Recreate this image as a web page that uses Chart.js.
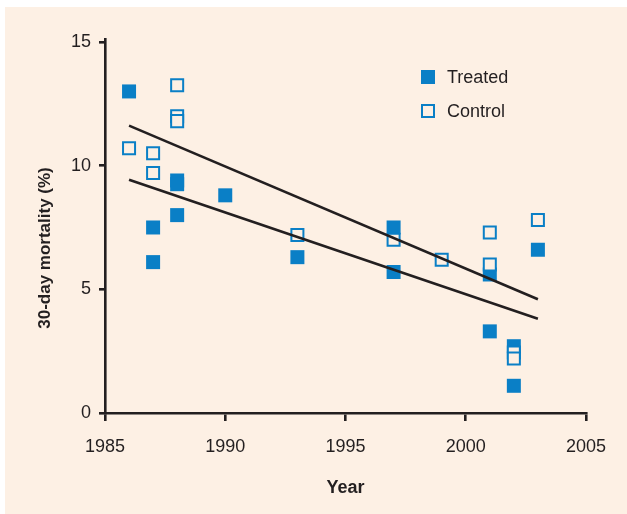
<!DOCTYPE html>
<html>
<head>
<meta charset="utf-8">
<title>30-day mortality</title>
<script src="https://cdn.jsdelivr.net/npm/chart.js@4"></script>
<style>
  html, body { margin: 0; padding: 0; background: #ffffff; }
  #bg { position: absolute; left: 5px; top: 7px; right: 0; bottom: 0; background: #fdf0e4; }
  #wrap { position: absolute; left: 0; top: 0; width: 627px; height: 514px; }
</style>
</head>
<body>
<div id="bg"></div>
<div id="wrap"><canvas id="mortalityChart" width="627" height="514"></canvas></div>
<script>
// values
const treatedYears     = [1986, 1987, 1987, 1988, 1988, 1988, 1990, 1993, 1997, 1997, 2001, 2001, 2002, 2002, 2003];
const treatedMortality = [13.0, 7.5, 6.1, 9.4, 9.25, 8.0, 8.8, 6.3, 7.5, 5.7, 5.6, 3.3, 2.7, 1.1, 6.6];

const controlYears     = [1986, 1987, 1987, 1988, 1988, 1988, 1993, 1997, 1999, 2001, 2001, 2002, 2002, 2003];
const controlMortality = [10.7, 10.5, 9.7, 13.25, 12.0, 11.8, 7.2, 7.0, 6.2, 7.3, 6.0, 2.45, 2.2, 7.8];

// trend lines (start / end)
const fitYears   = [1986, 2003];
const controlFit = [11.62, 4.60];
const treatedFit = [9.43, 3.81];

const xTicks = [1985, 1990, 1995, 2000, 2005];
const yTicks = [0, 5, 10, 15];

const INK = '#231f20';
const BLUE = '#0a7fc6';
const PAPER = '#fdf0e4';
const FONT = "'Liberation Sans', Arial, sans-serif";

function toPoints(xs, ys) {
    return xs.map((x, i) => ({ x: x, y: ys[i] }));
}

// legend + rotated y title drawn by hand so they sit where the original has them
const extras = {
    id: 'extras',
    afterDraw(chart) {
        const ctx = chart.ctx;
        ctx.save();
        ctx.fillStyle = BLUE;
        ctx.fillRect(421, 70, 14, 14);
        ctx.strokeStyle = BLUE;
        ctx.lineWidth = 2;
        ctx.fillStyle = PAPER;
        ctx.fillRect(422, 105, 12, 12);
        ctx.strokeRect(422, 105, 12, 12);

        ctx.fillStyle = INK;
        ctx.font = '18px ' + FONT;
        ctx.textAlign = 'left';
        ctx.textBaseline = 'alphabetic';
        ctx.fillText('Treated', 447, 83);
        ctx.fillText('Control', 447, 117);

        ctx.font = 'bold 17px ' + FONT;
        ctx.translate(50, 248);
        ctx.rotate(-Math.PI / 2);
        ctx.textAlign = 'center';
        ctx.fillText('30-day mortality (%)', 0, 0);
        ctx.restore();
    }
};

document.addEventListener('DOMContentLoaded', function() {
    const mortalityChart = new Chart(document.getElementById('mortalityChart').getContext('2d'), {
        type: 'scatter',
        data: {
            datasets: [
                {
                    label: 'Control trend',
                    type: 'line',
                    data: toPoints(fitYears, controlFit),
                    borderColor: INK,
                    borderWidth: 2.6,
                    pointRadius: 0,
                    fill: false,
                    order: 0
                },
                {
                    label: 'Treated trend',
                    type: 'line',
                    data: toPoints(fitYears, treatedFit),
                    borderColor: INK,
                    borderWidth: 2.6,
                    pointRadius: 0,
                    fill: false,
                    order: 0
                },
                {
                    label: 'Control',
                    data: toPoints(controlYears, controlMortality),
                    pointStyle: 'rect',
                    pointRadius: 8.5,
                    backgroundColor: PAPER,
                    borderColor: BLUE,
                    borderWidth: 2,
                    order: 1
                },
                {
                    label: 'Treated',
                    data: toPoints(treatedYears, treatedMortality),
                    pointStyle: 'rect',
                    pointRadius: 9.9,
                    backgroundColor: BLUE,
                    borderWidth: 0,
                    order: 2
                }
            ]
        },
        options: {
            responsive: false,
            devicePixelRatio: 1,
            animation: false,
            layout: { padding: { top: 39, right: 41, left: 0, bottom: 0 } },
            plugins: {
                legend: { display: false },
                tooltip: { enabled: false }
            },
            scales: {
                x: {
                    type: 'linear',
                    min: 1985,
                    max: 2005,
                    afterBuildTicks: s => { s.ticks = xTicks.map(v => ({ value: v })); },
                    afterFit: s => { s.height = 101; },
                    border: { display: true, color: INK, width: 2.6 },
                    grid: { drawOnChartArea: false, drawTicks: true, tickLength: 8, color: INK, lineWidth: 2.6 },
                    ticks: {
                        color: INK,
                        font: { family: FONT, size: 18 },
                        padding: 15,
                        maxRotation: 0,
                        autoSkip: false,
                        callback: v => String(v)
                    },
                    title: {
                        display: true,
                        text: 'Year',
                        color: INK,
                        font: { family: FONT, size: 18, weight: 'bold' },
                        padding: { top: 0, bottom: 15 }
                    }
                },
                y: {
                    min: 0,
                    max: 15.12,
                    afterBuildTicks: s => { s.ticks = yTicks.map(v => ({ value: v })); },
                    afterFit: s => { s.width = 105; },
                    border: { display: true, color: INK, width: 2.6 },
                    grid: { drawOnChartArea: false, drawTicks: true, tickLength: 6, color: INK, lineWidth: 2.6 },
                    ticks: {
                        color: INK,
                        font: { family: FONT, size: 18 },
                        padding: 8,
                        callback: v => String(v)
                    }
                }
            }
        },
        plugins: [extras]
    });
});
</script>
</body>
</html>
